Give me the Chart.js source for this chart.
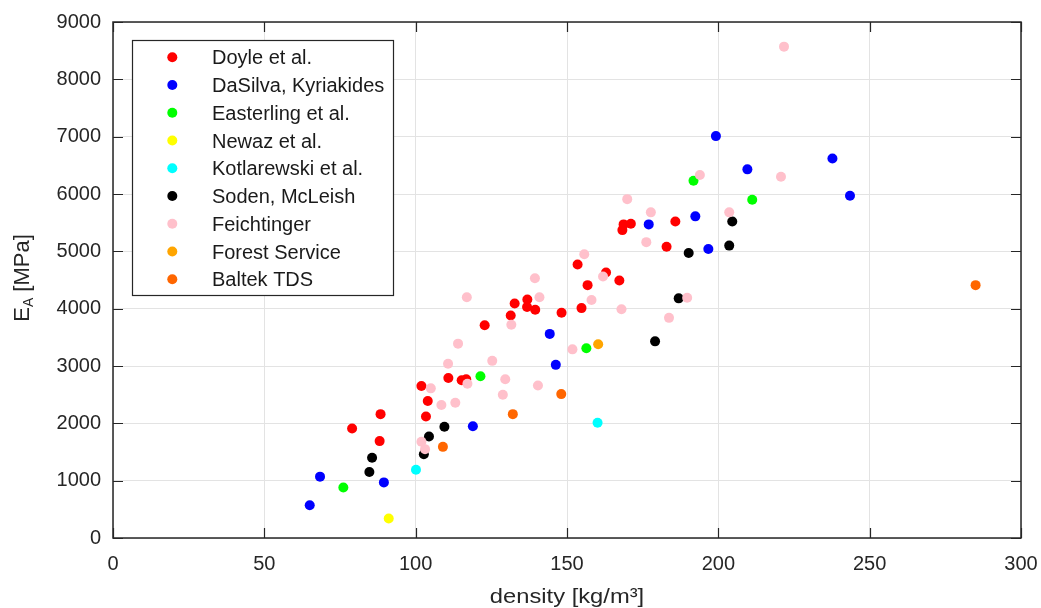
<!DOCTYPE html>
<html>
<head>
<meta charset="utf-8">
<script src="https://cdn.jsdelivr.net/npm/chart.js@4.4.1/dist/chart.umd.min.js"></script>
<style>
  html, body { margin: 0; padding: 0; background: #fff; }
  canvas { display: block; }
</style>
</head>
<body>
<canvas id="densityChart" width="1041" height="608"></canvas>
<script>
// each point: [density kg/m3, E_A MPa]
const doyle = [
  [79.0, 1910], [88.4, 2160], [88.1, 1690], [101.9, 2650], [104.0, 2390], [103.4, 2120],
  [110.8, 2790], [115.2, 2750], [116.7, 2770], [122.8, 3710], [131.4, 3880], [132.7, 4090],
  [136.9, 4160], [136.8, 4030], [139.5, 3980], [148.2, 3930], [153.5, 4770], [154.8, 4010],
  [156.8, 4410], [162.9, 4630], [167.3, 4490], [168.3, 5370], [168.7, 5470], [171.1, 5480],
  [182.9, 5080], [185.8, 5520]
];
const daSilva = [
  [65.0, 570], [68.4, 1070], [89.5, 970], [118.9, 1950], [144.3, 3560], [146.3, 3020],
  [177.0, 5470], [192.4, 5610], [196.7, 5040], [199.2, 7010], [209.6, 6430], [237.7, 6620],
  [243.5, 5970]
];
const easterling = [[76.1, 880], [121.4, 2820], [156.4, 3310], [191.8, 6230], [211.2, 5900]];
const newaz = [[91.1, 340]];
const kotlarewski = [[100.1, 1190], [160.1, 2010]];
const soden = [
  [84.7, 1150], [85.6, 1400], [102.7, 1460], [104.4, 1770], [109.5, 1940],
  [179.1, 3430], [186.9, 4180], [190.2, 4970], [203.6, 5100], [204.6, 5520]
];
const feichtinger = [
  [101.9, 1680], [103.1, 1550], [105.0, 2610], [108.5, 2320], [113.1, 2360], [110.7, 3040],
  [114.0, 3390], [117.1, 2690], [116.9, 4200], [125.3, 3090], [128.8, 2500], [129.6, 2770],
  [131.6, 3720], [139.4, 4530], [140.9, 4200], [140.4, 2660], [151.8, 3290], [155.7, 4950],
  [158.1, 4150], [161.9, 4560], [168.0, 3990], [169.9, 5910], [176.2, 5160], [177.7, 5680],
  [183.7, 3840], [189.7, 4190], [193.9, 6330], [203.6, 5680], [220.7, 6300], [221.7, 8570]
];
const forestService = [[160.3, 3380]];
const baltek = [[109.0, 1590], [132.1, 2160], [148.1, 2510], [285.0, 4410]];

const seriesData = [doyle, daSilva, easterling, newaz, kotlarewski, soden, feichtinger, forestService, baltek];
const seriesLabels = [
  'Doyle et al.', 'DaSilva, Kyriakides', 'Easterling et al.', 'Newaz et al.',
  'Kotlarewski et al.', 'Soden, McLeish', 'Feichtinger', 'Forest Service', 'Baltek TDS'
];
const seriesColors = ['#ff0000', '#0000ff', '#00ff00', '#ffff00', '#00ffff', '#000000', '#ffc0cb', '#ffa500', '#ff6600'];

const xTickValues = [0, 50, 100, 150, 200, 250, 300];
const yTickValues = [0, 1000, 2000, 3000, 4000, 5000, 6000, 7000, 8000, 9000];

const FONT = '"Liberation Sans", Arial, sans-serif';
const AXIS_COLOR = '#262626';

const datasets = seriesData.map((pts, i) => ({
  label: seriesLabels[i],
  data: pts.map(p => ({ x: p[0], y: p[1] })),
  backgroundColor: seriesColors[i],
  borderColor: seriesColors[i],
  pointRadius: 5,
  pointBorderWidth: 0,
  order: seriesData.length - i, // later series drawn on top
}));

// white background, box, inward ticks, axis titles and legend
const matlabAxes = {
  id: 'matlabAxes',
  beforeDraw(chart) {
    const c = chart.ctx;
    c.save();
    c.fillStyle = '#fff';
    c.fillRect(0, 0, chart.width, chart.height);
    c.restore();
  },
  afterDatasetsDraw(chart) {
    const c = chart.ctx;
    const a = chart.chartArea;
    const xs = chart.scales.x, ys = chart.scales.y;
    const tl = 10;
    c.save();
    c.strokeStyle = AXIS_COLOR;
    c.lineWidth = 1.5;
    c.strokeRect(a.left, a.top, a.right - a.left, a.bottom - a.top);
    c.lineWidth = 1.2;
    c.beginPath();
    xTickValues.forEach(v => {
      const px = Math.round(xs.getPixelForValue(v)) + 0.5;
      c.moveTo(px, a.bottom); c.lineTo(px, a.bottom - tl);
      c.moveTo(px, a.top); c.lineTo(px, a.top + tl);
    });
    yTickValues.forEach(v => {
      const py = Math.round(ys.getPixelForValue(v)) + 0.5;
      c.moveTo(a.left, py); c.lineTo(a.left + tl, py);
      c.moveTo(a.right, py); c.lineTo(a.right - tl, py);
    });
    c.stroke();

    // x title, slightly wide
    c.fillStyle = AXIS_COLOR;
    c.font = '21px ' + FONT;
    c.textBaseline = 'alphabetic';
    c.textAlign = 'center';
    c.save();
    c.translate((a.left + a.right) / 2, 603);
    c.scale(1.13, 1);
    c.fillText('density [kg/m³]', 0, 0);
    c.restore();

    // y title with subscript
    c.save();
    c.translate(28.5, (a.top + a.bottom) / 2 - 2);
    c.rotate(-Math.PI / 2);
    c.textAlign = 'left';
    const big = '22px ' + FONT, small = '14px ' + FONT;
    c.font = big;
    const wE = c.measureText('E').width;
    const wRest = c.measureText(' [MPa]').width;
    c.font = small;
    const wA = c.measureText('A').width;
    let x0 = -(wE + wA + wRest) / 2;
    c.font = big;
    c.fillText('E', x0, 0);
    c.font = small;
    c.fillText('A', x0 + wE, 4);
    c.font = big;
    c.fillText(' [MPa]', x0 + wE + wA, 0);
    c.restore();

    // legend
    const lx = 132.5, ly = 40.5, lw = 261, lh = 255, row = 27.75;
    c.fillStyle = '#fff';
    c.fillRect(lx, ly, lw, lh);
    c.strokeStyle = AXIS_COLOR;
    c.lineWidth = 1.2;
    c.strokeRect(lx, ly, lw, lh);
    c.font = '20px ' + FONT;
    c.textAlign = 'left';
    chart.data.datasets.forEach((ds, i) => {
      const cy = 57.3 + i * row;
      c.fillStyle = ds.backgroundColor;
      c.beginPath();
      c.arc(172.3, cy, 5, 0, Math.PI * 2);
      c.fill();
      c.fillStyle = '#1a1a1a';
      c.fillText(ds.label, 212, cy + 7);
    });
    c.restore();
  }
};

new Chart(document.getElementById('densityChart'), {
  type: 'scatter',
  data: { datasets },
  options: {
    responsive: false,
    animation: false,
    events: [],
    layout: { padding: { top: 22, right: 20, left: 0, bottom: 0 } },
    plugins: { legend: { display: false }, tooltip: { enabled: false } },
    scales: {
      x: {
        type: 'linear', min: 0, max: 300,
        afterBuildTicks: s => { s.ticks = xTickValues.map(v => ({ value: v })); },
        afterFit: s => { s.height = 70; s.paddingLeft = 0; s.paddingRight = 0; },
        grid: { color: '#e3e3e3', lineWidth: 1, drawTicks: false },
        border: { display: false },
        ticks: { color: AXIS_COLOR, padding: 14, font: { family: FONT, size: 20 }, maxRotation: 0, callback: v => String(v) }
      },
      y: {
        type: 'linear', min: 0, max: 9000,
        afterBuildTicks: s => { s.ticks = yTickValues.map(v => ({ value: v })); },
        afterFit: s => { s.width = 113; s.paddingTop = 0; s.paddingBottom = 0; },
        grid: { color: '#e3e3e3', lineWidth: 1, drawTicks: false },
        border: { display: false },
        ticks: { color: AXIS_COLOR, padding: 12, font: { family: FONT, size: 20 }, callback: v => String(v) }
      }
    }
  },
  plugins: [matlabAxes]
});
</script>
</body>
</html>
